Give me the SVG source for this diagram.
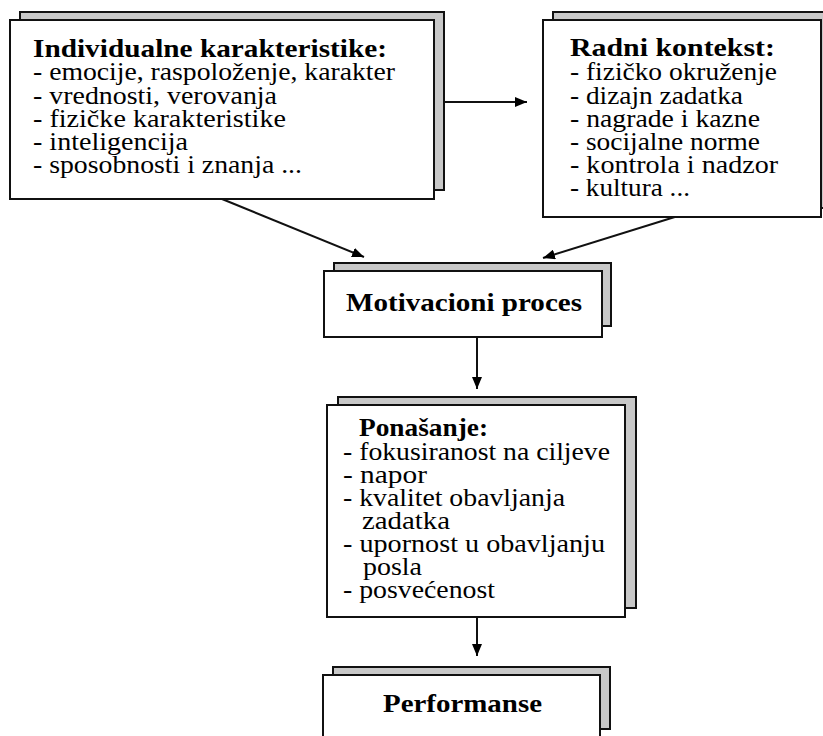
<svg xmlns="http://www.w3.org/2000/svg" width="823" height="736" viewBox="0 0 823 736">
<style>
.sh{fill:#c8c8c8;stroke:#111;stroke-width:2}
.fr{fill:#fff;stroke:#111;stroke-width:2}
.s{font-family:'Liberation Serif','Times New Roman',serif;font-size:25.5px;fill:#000}
.b{font-weight:bold}
.c{stroke:#111;stroke-width:2;fill:none}
</style>
<defs>
<marker id="ah" viewBox="0 0 12 10" refX="12" refY="5" markerWidth="12" markerHeight="10" markerUnits="userSpaceOnUse" orient="auto">
<path d="M0,0 L12,5 L0,10 z" fill="#000"/>
</marker>
</defs>
<g id="connectors">
<line class="c" x1="443" y1="102" x2="527" y2="102" marker-end="url(#ah)"/>
<line class="c" x1="222" y1="199" x2="364" y2="257" marker-end="url(#ah)"/>
<line class="c" x1="678" y1="216" x2="543" y2="258" marker-end="url(#ah)"/>
<line class="c" x1="477" y1="337" x2="477" y2="389" marker-end="url(#ah)"/>
<line class="c" x1="477" y1="617" x2="477" y2="656" marker-end="url(#ah)"/>
</g>
<g id="individualne">
<rect class="sh" x="20" y="12" width="424" height="178"/>
<rect class="fr" x="10" y="20" width="424" height="179"/>
<text class="s b" x="33" y="57" textLength="354" lengthAdjust="spacingAndGlyphs">Individualne karakteristike:</text>
<text class="s" x="33" y="80" textLength="362" lengthAdjust="spacingAndGlyphs">- emocije, raspoloženje, karakter</text>
<text class="s" x="33" y="104" textLength="244" lengthAdjust="spacingAndGlyphs">- vrednosti, verovanja</text>
<text class="s" x="33" y="127" textLength="253" lengthAdjust="spacingAndGlyphs">- fizičke karakteristike</text>
<text class="s" x="33" y="150" textLength="155" lengthAdjust="spacingAndGlyphs">- inteligencija</text>
<text class="s" x="33" y="173" textLength="269" lengthAdjust="spacingAndGlyphs">- sposobnosti i znanja ...</text>
</g>
<g id="radni">
<rect class="sh" x="553" y="12" width="280" height="196"/>
<rect class="fr" x="543" y="20" width="278" height="197"/>
<text class="s b" x="570" y="56" textLength="205" lengthAdjust="spacingAndGlyphs">Radni kontekst:</text>
<text class="s" x="570" y="80" textLength="207" lengthAdjust="spacingAndGlyphs">- fizičko okruženje</text>
<text class="s" x="570" y="104" textLength="173" lengthAdjust="spacingAndGlyphs">- dizajn zadatka</text>
<text class="s" x="570" y="127" textLength="190" lengthAdjust="spacingAndGlyphs">- nagrade i kazne</text>
<text class="s" x="570" y="150" textLength="190" lengthAdjust="spacingAndGlyphs">- socijalne norme</text>
<text class="s" x="570" y="173" textLength="208" lengthAdjust="spacingAndGlyphs">- kontrola i nadzor</text>
<text class="s" x="570" y="196" textLength="120" lengthAdjust="spacingAndGlyphs">- kultura ...</text>
</g>
<g id="motivacioni">
<rect class="sh" x="334" y="263" width="277" height="63"/>
<rect class="fr" x="324" y="271" width="278" height="66"/>
<text class="s b" x="346" y="311" textLength="236" lengthAdjust="spacingAndGlyphs">Motivacioni proces</text>
</g>
<g id="ponasanje">
<rect class="sh" x="338" y="397" width="298" height="211"/>
<rect class="fr" x="327" y="405" width="298" height="212"/>
<text class="s b" x="359" y="436" textLength="129" lengthAdjust="spacingAndGlyphs">Ponašanje:</text>
<text class="s" x="343" y="460" textLength="267" lengthAdjust="spacingAndGlyphs">- fokusiranost na ciljeve</text>
<text class="s" x="343" y="483" textLength="84" lengthAdjust="spacingAndGlyphs">- napor</text>
<text class="s" x="343" y="506" textLength="222" lengthAdjust="spacingAndGlyphs">- kvalitet obavljanja</text>
<text class="s" x="362" y="529" textLength="88" lengthAdjust="spacingAndGlyphs">zadatka</text>
<text class="s" x="343" y="552" textLength="262" lengthAdjust="spacingAndGlyphs">- upornost u obavljanju</text>
<text class="s" x="363" y="575" textLength="59" lengthAdjust="spacingAndGlyphs">posla</text>
<text class="s" x="343" y="598" textLength="152" lengthAdjust="spacingAndGlyphs">- posvećenost</text>
</g>
<g id="performanse">
<rect class="sh" x="333" y="667" width="277" height="62"/>
<rect class="fr" x="323" y="675" width="277" height="70"/>
<text class="s b" x="383" y="712" textLength="159" lengthAdjust="spacingAndGlyphs">Performanse</text>
</g>
</svg>
